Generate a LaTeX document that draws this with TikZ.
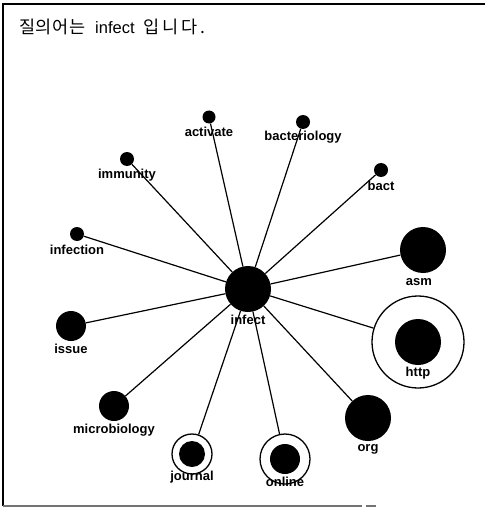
\documentclass[tikz,border=0pt]{standalone}
\usepackage{fontspec}
\setmainfont{Liberation Sans}
\newfontfamily\krfont[LetterSpace=3]{Noto Sans CJK KR}
\newfontfamily\krwide[LetterSpace=16]{Noto Sans CJK KR}
\begin{document}
\begin{tikzpicture}[x=1pt,y=-1pt,
  blob/.style={circle,fill=black,draw=none,inner sep=0pt,minimum size=#1},
  halo/.style={circle,draw=black,line width=1.3pt,fill=white,inner sep=0pt,minimum size=#1},
  lbl/.style={font=\bfseries\fontsize{13}{13}\selectfont,inner sep=0pt},
  link/.style={line width=1.2pt,black}]
\useasboundingbox (0,0) rectangle (485,508);
\fill[white] (0,0) rectangle (485,508);
% frame
\draw[line width=1.5pt] (485,4) -- (3,4) -- (3,506);
\draw[line width=1.5pt,black!55] (3,506) -- (362,506);
\draw[line width=1.5pt,black!55] (366,506) -- (376,506);
% title
\node[anchor=west,inner sep=0pt,font=\fontsize{16.5}{16.5}\selectfont] (title) at (19,27) {{\krfont\fontsize{17.5}{17.5}\selectfont 질의어는}\hspace{10pt}infect\hspace{9pt}{\krwide\fontsize{17.5}{17.5}\selectfont 입니다.}};
% nodes
\node[blob=46pt] (infect) at (248,289) {};
\node[blob=13pt] (activate) at (209,117) {};
\node[blob=14pt] (immunity) at (127,159) {};
\node[blob=14pt] (infection) at (77,234) {};
\node[blob=14pt] (bacteriology) at (303,122) {};
\node[blob=14pt] (bact) at (381,170) {};
\node[blob=46pt] (asm) at (423,250) {};
\node[blob=30pt] (issue) at (71,326) {};
\node[blob=30pt] (microbiology) at (114,406) {};
\node[blob=46pt] (org) at (368,418) {};
\node[halo=40pt] (journal) at (192,454) {};
\node[blob=26pt] (journalc) at (journal.center) {};
\node[halo=92pt] (http) at (418,342) {};
\node[blob=46pt] (httpc) at (http.center) {};
\node[halo=50pt] (online) at (285,459) {};
\node[blob=30pt] (onlinec) at (online.center) {};
% links
\foreach \n in {activate,immunity,infection,bacteriology,bact,asm,issue,microbiology,org,journal,http,online}
  \draw[link] (infect) -- (\n);
% labels
\node[lbl] (tinfect) at (248,320) {infect};
\node[lbl] (tactivate) at (209,132) {activate};
\node[lbl] (timmunity) at (127,175) {immunity};
\node[lbl] (tinfection) at (77,250) {infection};
\node[lbl] (tbacteriology) at (303,137) {bacteriology};
\node[lbl] (tbact) at (381,186) {bact};
\node[lbl] (tasm) at (419,282) {asm};
\node[lbl] (tissue) at (71,349) {issue};
\node[lbl] (tmicrobiology) at (114,430) {microbiology};
\node[lbl] (tjournal) at (192,477) {journal};
\node[lbl] (thttp) at (418,373) {http};
\node[lbl] (torg) at (368,449) {org};
\node[lbl] (tonline) at (285,482) {online};
\end{tikzpicture}
\end{document}
